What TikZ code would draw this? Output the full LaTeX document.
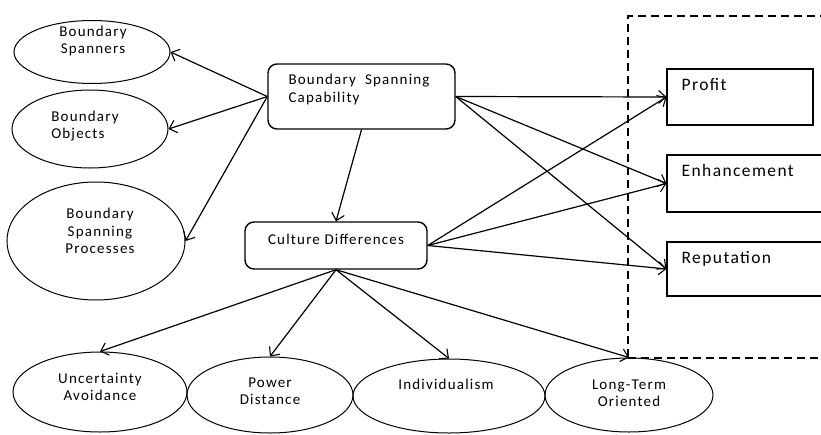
\documentclass[tikz,border=0pt]{standalone}
\usepackage{fontspec}
\setmainfont{Carlito}[LetterSpace=8]
\usetikzlibrary{arrows.meta,shapes.geometric}
\tikzset{
  oval/.style={ellipse, draw, line width=1pt, inner sep=0pt},
  rbox/.style={rectangle, draw, rounded corners=9pt, line width=1.4pt, inner sep=0pt},
  sbox/.style={rectangle, draw, line width=1.1pt, inner sep=0pt},
  txt/.style={font=\fontsize{15}{17.5}\selectfont, align=center, inner sep=0pt},
  txtl/.style={font=\fontsize{15}{17.5}\selectfont, align=left, inner sep=0pt},
  txtb/.style={font=\fontsize{17.5}{20}\selectfont, align=left, inner sep=0pt},
  arr/.style={line width=1.2pt, -{Straight Barb[length=7pt,width=13pt,line width=1.1pt]}},
  frame/.style={rectangle, draw, dash pattern=on 8pt off 5pt, line width=1.1pt, inner sep=0pt}
}
\begin{document}
\begin{tikzpicture}[x=1pt,y={(0pt,-1pt)}]
\useasboundingbox (0,0) rectangle (821,434);
% dashed outcome frame
\node[frame, minimum width=202, minimum height=342] (outcomes) at (729,187) {};
% left ellipses
\node[oval, minimum width=156, minimum height=63,
  label={[txt,yshift=11pt,xshift=1pt]center:{Boundary\\Spanners}}] (spanners) at (92,52) {};
\node[oval, minimum width=156, minimum height=78,
  label={[txtl,yshift=3pt,xshift=-5pt]center:{Boundary\\Objects}}] (objects) at (90,129) {};
\node[oval, minimum width=178, minimum height=118,
  label={[txt,yshift=10pt,xshift=4pt]center:{Boundary\\Spanning\\Processes}}] (processes) at (96,241) {};
% central boxes
\node[rbox, minimum width=187, minimum height=65,
  label={[txtl,anchor=north west,xshift=21pt,yshift=-11pt]north west:{Boundary\ \ Spanning\\Capability}}] (bsc) at (361.5,96.5) {};
\node[rbox, minimum width=182, minimum height=47,
  label={[txt,yshift=6pt]center:{Culture Differences}}] (cd) at (336,245.5) {};
% outcome boxes
\node[sbox, minimum width=146, minimum height=56,
  label={[txtb,anchor=north west,xshift=15pt,yshift=-10pt]north west:{Profit}}] (profit) at (740,97) {};
\node[sbox, minimum width=160, minimum height=57,
  label={[txtb,anchor=north west,xshift=15pt,yshift=-10pt]north west:{Enhancement}}] (enh) at (747,183.5) {};
\node[sbox, minimum width=160, minimum height=54,
  label={[txtb,anchor=north west,xshift=15pt,yshift=-10pt]north west:{Reputation}}] (rep) at (747,269) {};
% bottom ellipses
\node[oval, minimum width=174, minimum height=80,
  label={[txt,yshift=5pt]center:{Uncertainty\\Avoidance}}] (uncert) at (100,392) {};
\node[oval, minimum width=166, minimum height=76,
  label={[txt,yshift=4pt]center:{Power\\Distance}}] (power) at (270,395) {};
\node[oval, minimum width=192, minimum height=74,
  label={[txt,yshift=12pt,xshift=-3pt]center:{Individualism}}] (indiv) at (449,396) {};
\node[oval, minimum width=168, minimum height=74,
  label={[txt,yshift=2pt]center:{Long-Term\\Oriented}}] (longterm) at (629,395) {};
% connectors
\draw[arr] (bsc.west) -- (spanners.east);
\draw[arr] (bsc.west) -- (objects.east);
\draw[arr] (bsc.west) -- (processes.east);
\draw[arr] (bsc.south) -- (cd.north);
\draw[arr] (bsc.east) -- (profit.west);
\draw[arr] (bsc.east) -- (enh.west);
\draw[arr] (bsc.east) -- (rep.west);
\draw[arr] (cd.east) -- (profit.west);
\draw[arr] (cd.east) -- (enh.west);
\draw[arr] (cd.east) -- (rep.west);
\draw[arr] (cd.south) -- (uncert.north);
\draw[arr] (cd.south) -- (power.north);
\draw[arr] (cd.south) -- (indiv.north);
\draw[arr] (cd.south) -- (longterm.north);
\end{tikzpicture}
\end{document}
